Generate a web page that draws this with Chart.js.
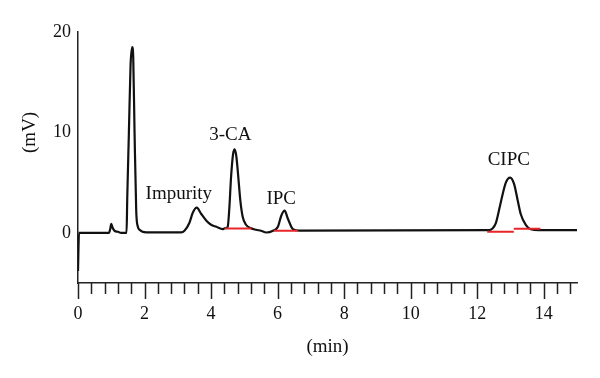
<!DOCTYPE html>
<html>
<head>
<meta charset="utf-8">
<script src="https://cdn.jsdelivr.net/npm/chart.js@4.4.1/dist/chart.umd.min.js"></script>
<style>
  html, body { margin: 0; padding: 0; background: #fff; }
  #wrap { width: 600px; height: 378px; }
</style>
</head>
<body>
<div id="wrap"><canvas id="chromChart" width="600" height="378"></canvas></div>
<script>
// retention time (min) and detector signal (mV)
const retentionTime = [0, 0.03, 0.93, 0.97, 1.0, 1.04, 1.10, 1.2, 1.3, 1.46, 1.48, 1.53, 1.58, 1.63, 1.66, 1.70, 1.75, 1.80, 1.85, 2.05,
    3.10, 3.20, 3.35, 3.45, 3.57, 3.70, 3.86, 4.00, 4.16, 4.35, 4.41, 4.50, 4.55, 4.60, 4.66, 4.71, 4.76, 4.82, 4.88, 4.95, 5.05, 5.20, 5.35,
    5.50, 5.66, 5.86, 6.01, 6.11, 6.21, 6.31, 6.46, 6.66,
    12.36, 12.45, 12.56, 12.71, 12.86, 12.99, 13.11, 13.21, 13.31, 13.46, 13.61, 13.86, 15.0];
const signal = [-3.8, 0, 0, 0.4, 0.9, 0.5, 0.2, 0.1, 0, 0, 3.4, 10.0, 16.7, 18.5, 17.5, 10.0, 2.2, 0.6, 0.3, 0.05,
    0.05, 0.2, 1.0, 2.0, 2.5, 1.9, 1.2, 0.8, 0.6, 0.37, 0.45, 0.6, 2.5, 5.5, 7.8, 8.3, 7.6, 5.5, 3.2, 1.6, 0.8, 0.45, 0.3,
    0.2, 0.03, 0.2, 0.6, 1.7, 2.2, 1.4, 0.37, 0.22,
    0.27, 0.4, 0.96, 3.05, 5.0, 5.5, 4.85, 3.35, 1.85, 0.8, 0.35, 0.27, 0.27];

// integration baselines (red)
const baseStart = [4.41, 5.89, 12.3, 13.1];
const baseEnd = [5.21, 6.61, 13.1, 13.9];
const baseLevel = [0.43, 0.2, 0.1, 0.4];

// peak names
const peakNames = ["Impurity", "3-CA", "IPC", "CIPC"];
const peakNameTime = [3.03, 4.58, 6.11, 12.95];
const peakNameLevel = [3.9, 9.7, 3.4, 7.2];

const xTickLabels = [0, 2, 4, 6, 8, 10, 12, 14];
const yTickLabels = [0, 10, 20];
const minorStep = 0.4;

const FONT = "'Liberation Serif', 'DejaVu Serif', serif";

const tracePoints = retentionTime.map((t, i) => ({ x: t, y: signal[i] }));
const basePoints = [];
baseStart.forEach((s, i) => {
    basePoints.push({ x: s, y: baseLevel[i] });
    basePoints.push({ x: baseEnd[i], y: baseLevel[i] });
    basePoints.push({ x: baseEnd[i], y: null });
});

const extras = {
    id: "extras",
    afterDraw(chart) {
        const ctx = chart.ctx;
        const xs = chart.scales.x, ys = chart.scales.y;
        const bottom = chart.chartArea.bottom;
        ctx.save();
        // x tick marks, longer on labelled ticks
        ctx.strokeStyle = "#222";
        ctx.lineWidth = 1.5;
        for (let i = 0; i * minorStep < 15; i++) {
            const px = Math.round(xs.getPixelForValue(i * minorStep)) + 0.5;
            const len = i % 5 === 0 ? 16 : 11;
            ctx.beginPath();
            ctx.moveTo(px, bottom);
            ctx.lineTo(px, bottom + len);
            ctx.stroke();
        }
        // peak names
        ctx.fillStyle = "#111";
        ctx.font = "19px " + FONT;
        ctx.textAlign = "center";
        ctx.textBaseline = "middle";
        peakNames.forEach((name, i) => {
            ctx.fillText(name, xs.getPixelForValue(peakNameTime[i]), ys.getPixelForValue(peakNameLevel[i]));
        });
        // y axis title, level with the 10 tick
        ctx.translate(30, ys.getPixelForValue(10));
        ctx.rotate(-Math.PI / 2);
        ctx.fillText("(mV)", 0, 0);
        ctx.restore();
    }
};

new Chart(document.getElementById("chromChart"), {
    type: "line",
    data: {
        datasets: [{
            data: basePoints,
            borderColor: "#e8262a",
            borderWidth: 2,
            pointRadius: 0,
            spanGaps: false
        }, {
            data: tracePoints,
            borderColor: "#111",
            borderWidth: 2.2,
            pointRadius: 0,
            cubicInterpolationMode: "monotone"
        }]
    },
    options: {
        responsive: false,
        animation: false,
        parsing: false,
        layout: { padding: { top: 32, right: 23, left: 0, bottom: 0 } },
        plugins: { legend: { display: false }, tooltip: { enabled: false } },
        scales: {
            x: {
                type: "linear",
                min: 0,
                max: 15,
                afterFit: s => { s.height = 95; },
                afterBuildTicks: s => { s.ticks = xTickLabels.map(v => ({ value: v })); },
                border: { display: true, color: "#222", width: 1.5 },
                grid: { drawOnChartArea: false, tickLength: 16, tickColor: "rgba(0,0,0,0)" },
                ticks: { color: "#111", font: { family: FONT, size: 18 }, padding: 4, maxRotation: 0 },
                title: { display: true, text: "(min)", color: "#111", font: { family: FONT, size: 19 }, padding: { top: 0, bottom: 20 } }
            },
            y: {
                min: -5,
                max: 20,
                afterFit: s => { s.width = 78; },
                afterBuildTicks: s => { s.ticks = yTickLabels.map(v => ({ value: v })); },
                border: { display: true, color: "#222", width: 1.5 },
                grid: { drawOnChartArea: false, drawTicks: false },
                ticks: { color: "#111", font: { family: FONT, size: 18 }, padding: 7 }
            }
        }
    },
    plugins: [extras]
});
</script>
</body>
</html>
